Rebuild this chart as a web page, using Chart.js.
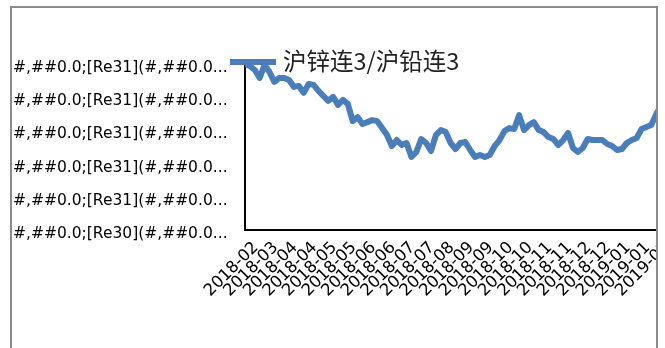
<!DOCTYPE html>
<html>
<head>
<meta charset="utf-8">
<script src="https://cdn.jsdelivr.net/npm/chart.js@4/dist/chart.umd.min.js"></script>
<style>
  html, body { margin: 0; padding: 0; background: #fff; width: 665px; height: 348px; overflow: hidden; }
  #clip { position: absolute; left: 0; top: 0; width: 657px; height: 348px; overflow: hidden; }
  #frame { position: absolute; left: 10px; top: 6px; width: 648px; height: 360px;
           border: 2px solid #8c8c8c; box-sizing: border-box; pointer-events: none; }
</style>
</head>
<body>
<div id="clip"><canvas id="c" width="700" height="348"></canvas></div>
<div id="frame"></div>
<script>
// 沪锌连3 / 沪铅连3 price ratio, one value per sampled trading day
const seriesName = '沪锌连3/沪铅连3';
const ratio = [
  1.500, 1.494, 1.482, 1.458, 1.497, 1.476, 1.446, 1.458, 1.458, 1.452,
  1.431, 1.434, 1.413, 1.440, 1.437, 1.419, 1.404, 1.389, 1.401, 1.377,
  1.392, 1.380, 1.328, 1.340, 1.319, 1.325, 1.331, 1.328, 1.307, 1.286,
  1.253, 1.271, 1.256, 1.262, 1.220, 1.235, 1.274, 1.262, 1.238, 1.286,
  1.301, 1.295, 1.262, 1.244, 1.262, 1.265, 1.241, 1.220, 1.226, 1.220,
  1.226, 1.253, 1.271, 1.298, 1.307, 1.304, 1.346, 1.301, 1.316, 1.325,
  1.301, 1.295, 1.280, 1.274, 1.256, 1.271, 1.292, 1.247, 1.235, 1.247,
  1.274, 1.271, 1.271, 1.271, 1.259, 1.253, 1.241, 1.244, 1.262, 1.271,
  1.277, 1.304, 1.310, 1.316, 1.349, 1.373
];
// one date label every 4 samples
const pointsPerLabel = 4;
const xTickLabels = [
  '2018-02', '2018-03', '2018-04', '2018-04', '2018-05', '2018-05',
  '2018-06', '2018-06', '2018-07', '2018-07', '2018-08', '2018-09',
  '2018-09', '2018-10', '2018-10', '2018-11', '2018-11', '2018-12',
  '2018-12', '2019-01', '2019-01', '2019-02'
];
// value-axis labels, bottom to top
const yTickLabels = [
  '#,##0.0;[Re30](#,##0.0...',
  '#,##0.0;[Re31](#,##0.0...',
  '#,##0.0;[Re31](#,##0.0...',
  '#,##0.0;[Re31](#,##0.0...',
  '#,##0.0;[Re31](#,##0.0...',
  '#,##0.0;[Re31](#,##0.0...'
];
const yMin = 1.0, yMax = 1.5, yStep = 0.1;

const lineColor = '#4a7ebb';

const points = ratio.map((v, i) => ({ x: i, y: v }));

// legend drawn over the top edge of the plot
const legendOverlay = {
  id: 'legendOverlay',
  afterDraw(chart) {
    const ctx = chart.ctx;
    const ds = chart.data.datasets[0];
    ctx.save();
    ctx.strokeStyle = ds.borderColor;
    ctx.lineWidth = 6;
    ctx.lineCap = 'butt';
    ctx.beginPath();
    ctx.moveTo(230, 62);
    ctx.lineTo(276, 62);
    ctx.stroke();
    ctx.fillStyle = '#222';
    ctx.font = '23.5px "Noto Sans CJK SC"';
    ctx.textBaseline = 'middle';
    ctx.textAlign = 'left';
    ctx.fillText(ds.label, 283, 61);
    ctx.restore();
  }
};

new Chart(document.getElementById('c'), {
  type: 'line',
  data: {
    datasets: [{
      label: seriesName,
      data: points,
      borderColor: lineColor,
      borderWidth: 6,
      borderJoinStyle: 'round',
      borderCapStyle: 'round',
      pointRadius: 0,
      tension: 0,
      fill: false
    }]
  },
  options: {
    responsive: false,
    animation: false,
    layout: { padding: { left: 13, top: 64, right: 34, bottom: 0 } },
    plugins: { legend: { display: false }, tooltip: { enabled: false } },
    scales: {
      x: {
        type: 'linear',
        min: 0,
        max: 86,
        grid: { display: false, drawTicks: false },
        border: { display: true, color: '#000', width: 2 },
        afterFit(scale) { scale.height = 118; },
        afterBuildTicks(scale) {
          scale.ticks = xTickLabels.map((_, i) => ({ value: i * pointsPerLabel }));
        },
        ticks: {
          autoSkip: false,
          minRotation: 45,
          maxRotation: 45,
          padding: 8,
          labelOffset: 11,
          color: '#000',
          font: { family: 'DejaVu Sans', size: 16.5 },
          callback: (v) => xTickLabels[Math.round(v / pointsPerLabel)]
        }
      },
      y: {
        min: yMin,
        max: yMax,
        grid: { display: false, drawTicks: false },
        border: { display: true, color: '#000', width: 2 },
        afterFit(scale) { scale.width = 232; },
        afterBuildTicks(scale) {
          scale.ticks = yTickLabels.map((_, i) => ({ value: +(yMin + i * yStep).toFixed(2) }));
        },
        ticks: {
          crossAlign: 'far',
          labelOffset: 4,
          color: '#000',
          font: { family: 'DejaVu Sans', size: 15.5 },
          callback: (v, i) => yTickLabels[i]
        }
      }
    }
  },
  plugins: [legendOverlay]
});
</script>
</body>
</html>
